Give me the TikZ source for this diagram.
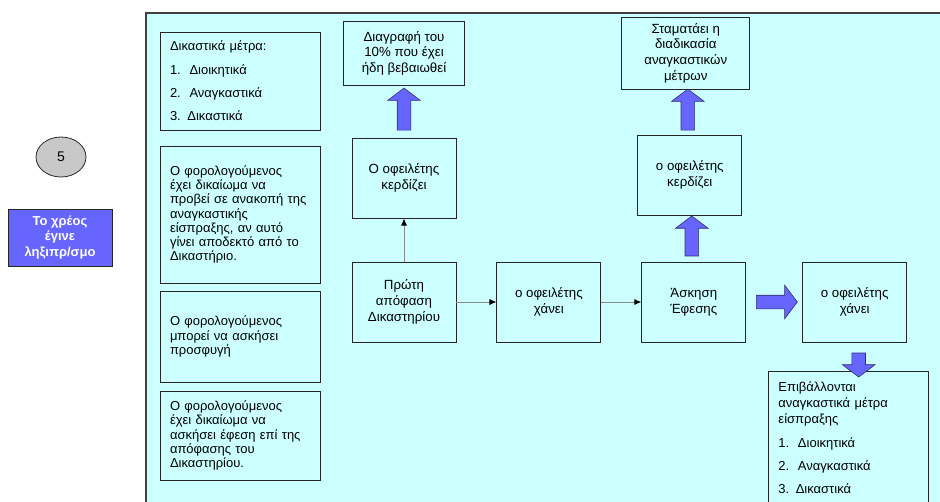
\documentclass[tikz,border=0pt]{standalone}
\usepackage{fontspec}
\setmainfont{Liberation Sans}
\usetikzlibrary{positioning,shapes.geometric,shapes.arrows,calc,arrows.meta}
\definecolor{panelcyan}{HTML}{CCFFFF}
\definecolor{fatblue}{HTML}{6666FF}
\definecolor{knobgray}{HTML}{C8C8C8}

\begin{document}
\begin{tikzpicture}[x=1pt, y=1pt, font=\fontsize{13}{14.3}\selectfont,
                    main node/.style={rectangle,draw=black!85,line width=0.9pt,align=center,
                      minimum width=104pt,minimum height=80pt,inner sep=3pt,
                      font=\fontsize{13.3}{15.8}\selectfont},
                    side node/.style={rectangle,draw=black!85,line width=0.9pt,
                      text width=140pt,inner xsep=10pt,align=left},
                    fat arrow/.style={single arrow,draw=black!55!fatblue,line width=0.6pt,
                      fill=fatblue,inner sep=6.5pt,single arrow head extend=9.5pt,
                      single arrow tip angle=106},
                    link/.style={draw=black!45,line width=0.8pt,-{Latex[black,length=7pt,width=6pt]}}]

  \clip (0,0) rectangle (940,-501);
  \fill[white] (0,0) rectangle (940,-501);
  \draw[fill=panelcyan,draw=black!75,line width=1.2pt] (146,-13) rectangle (960,-520);

  % outside the panel
  \node[ellipse,draw=black!85,line width=0.8pt,fill=knobgray,minimum width=50pt,minimum height=40pt,
        font=\fontsize{14}{15}\selectfont] (1) at (61,-157) {5};
  \node[rectangle,draw=black!85,line width=0.9pt,fill=fatblue,text=white,align=center,
        minimum width=104pt,minimum height=57pt,inner sep=2pt,
        font=\bfseries\fontsize{13}{15.5}\selectfont] (2) at (60,-237.5) {Το χρέος\\ έγινε\\ ληξιπρ/σμο};

  % left column
  \node[side node,minimum height=98pt] (3) at (240,-81)
    {Δικαστικά μέτρα:\\[9pt] 1.\ \ Διοικητικά\\[9pt] 2.\ \ Αναγκαστικά\\[9pt] 3. Δικαστικά};
  \node[side node,minimum height=137pt] (4) at (240,-214.5)
    {Ο φορολογούμενος\\ έχει δικαίωμα να\\ προβεί σε ανακοπή της\\ αναγκαστικής\\ είσπραξης, αν αυτό\\ γίνει αποδεκτό από το\\ Δικαστήριο.};
  \node[side node,minimum height=91pt] (5) at (240,-336.5)
    {Ο φορολογούμενος\\ μπορεί να ασκήσει\\ προσφυγή};
  \node[side node,minimum height=89pt] (6) at (240,-435.5)
    {Ο φορολογούμενος\\ έχει δικαίωμα να\\ ασκήσει έφεση επί της\\ απόφασης του\\ Δικαστηρίου.};

  % main flow
  \node[main node] (7) at (404,-302) {Πρώτη\\ απόφαση\\ Δικαστηρίου};
  \node[main node] (8) [above=43pt of 7] {Ο οφειλέτης\\ κερδίζει};
  \node[main node,minimum width=121pt,minimum height=64pt] (9) [above=52pt of 8] {Διαγραφή του\\ 10\% που έχει\\ ήδη βεβαιωθεί};
  \node[main node] (10) [right=40pt of 7] {ο οφειλέτης\\ χάνει};
  \node[main node] (11) [right=40pt of 10] {Άσκηση\\ Έφεσης};
  \node[main node] (12) [above=46pt of 11,xshift=-4pt] {ο οφειλέτης\\ κερδίζει};
  \node[main node,minimum width=128pt,minimum height=72pt] (13) [above=45pt of 12,xshift=-4pt]
    {Σταματάει η\\ διαδικασία\\ αναγκαστικών\\ μέτρων};
  \node[main node] (14) [right=56pt of 11] {ο οφειλέτης\\ χάνει};
  \node[side node,anchor=north west,inner ysep=10pt,text depth=125pt,
        font=\fontsize{13}{16}\selectfont] (15) at (768,-371)
    {Επιβάλλονται\\ αναγκαστικά μέτρα\\ είσπραξης\\[8pt] 1.\ \ Διοικητικά\\[7pt] 2.\ \ Αναγκαστικά\\[7pt] 3. Δικαστικά};

  % fat arrows
  \node[fat arrow,shape border rotate=90,minimum height=42pt] (a1) at ($(9.south)!0.5!(8.north)$) {};
  \node[fat arrow,shape border rotate=90,minimum height=41pt] (a2) at ($(13.south)!0.5!(12.north)$) {};
  \node[fat arrow,shape border rotate=90,minimum height=40pt] (a3) at ($(12.south)!0.5!(11.north)$) {};
  \node[fat arrow,minimum height=41pt,single arrow head extend=10pt] (a4) at ($(11.east)!0.5!(14.west)$) {};
  \node[fat arrow,shape border rotate=270,minimum height=24pt] (a5) at ($(14.south)+(4,-20)$) {};

  \path
    (7) edge[link] (8)
    (7) edge[link] (10)
    (10) edge[link] (11)
  ;

\end{tikzpicture}
\end{document}
